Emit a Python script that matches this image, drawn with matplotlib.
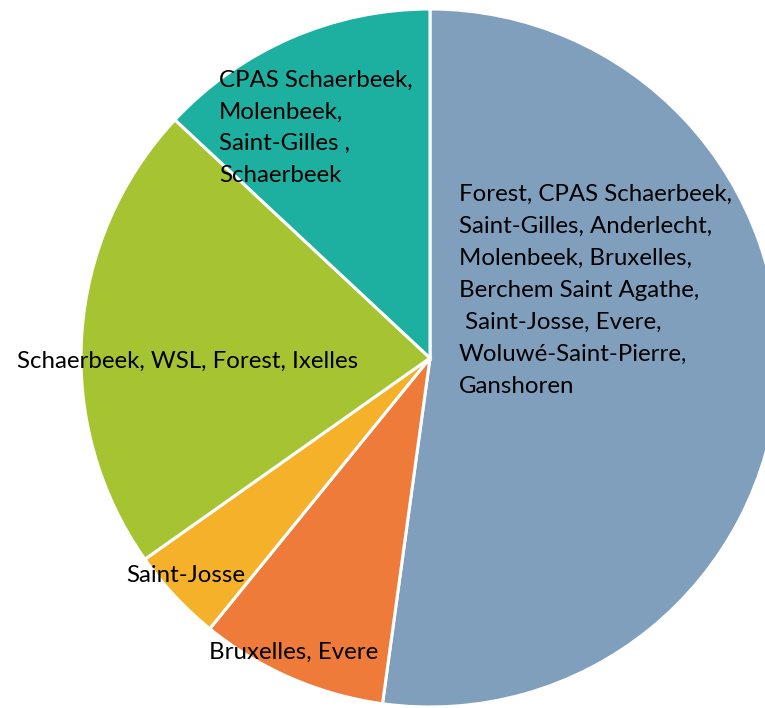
import matplotlib
matplotlib.use("Agg")
import matplotlib.pyplot as plt

# Data (counts of communes per category)
labels = [
    "Forest, CPAS Schaerbeek,\nSaint-Gilles, Anderlecht,\nMolenbeek, Bruxelles,\nBerchem Saint Agathe,\n Saint-Josse, Evere,\nWoluwé-Saint-Pierre,\nGanshoren",
    "Bruxelles, Evere",
    "Saint-Josse",
    "Schaerbeek, WSL, Forest, Ixelles",
    "CPAS Schaerbeek,\nMolenbeek,\nSaint-Gilles ,\nSchaerbeek",
]
values = [12, 2, 1, 5, 3]
colors = ["#7F9FBD", "#EE7B39", "#F5B12A", "#A6C432", "#1DB0A0"]

W, H = 765, 708
fig = plt.figure(figsize=(W / 100, H / 100), dpi=100)
ax = fig.add_axes([0, 0, 1, 1])

cx, cy, r = 430, H - 358, 349
ax.pie(values, colors=colors, startangle=90, counterclock=False,
       center=(cx, cy), radius=r,
       wedgeprops=dict(edgecolor="white", linewidth=2.2), frame=True)
ax.set_xlim(0, W)
ax.set_ylim(0, H)
ax.set_aspect("equal")
ax.axis("off")

# label anchor: (left x, first baseline y in pixels from top, line step)
label_pos = [(459, 201, 32), (209, 659, 32), (126, 582, 32), (17, 368, 32), (219, 87, 31.5)]
for text, (x, y, step) in zip(labels, label_pos):
    for i, line in enumerate(text.split("\n")):
        ax.text(x, H - (y + i * step), line, ha="left", va="baseline",
                fontsize=17.3, family="Lato", color="black")

fig.savefig("out.png", dpi=100)
